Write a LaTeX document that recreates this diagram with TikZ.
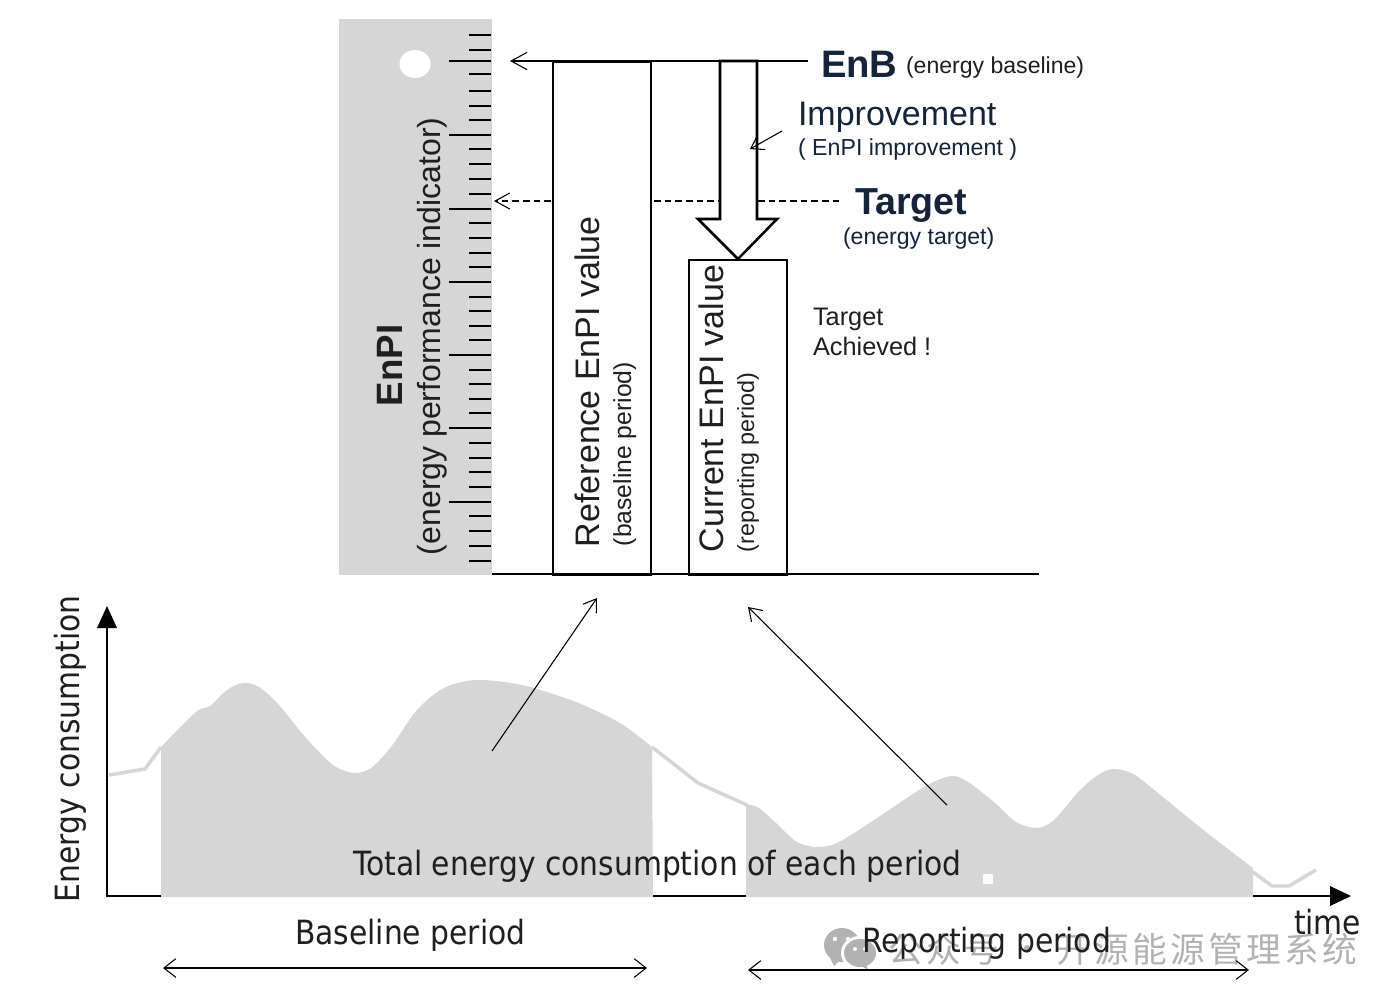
\documentclass[tikz,border=0pt]{standalone}
\usepackage{fontspec}
\usetikzlibrary{arrows.meta}
\setmainfont{Liberation Sans}
\newfontfamily\tahomafont[FakeStretch=0.893]{DejaVu Sans}
\newfontfamily\cjkfont[LetterSpace=10]{Noto Sans CJK SC}
\definecolor{inkblue}{HTML}{15243A}
\definecolor{fillgray}{HTML}{D6D6D6}
\definecolor{markgray}{HTML}{B2B2B2}
\newcommand{\pxfont}[1]{\fontsize{#1}{#1}\selectfont}
\tikzset{
  x=0.75pt,y=-0.75pt,
  lbl/.style={inner sep=0pt,outer sep=0pt,anchor=base west,text=black!88},
  lblup/.style={lbl,rotate=90},
  head/.style={lbl,text=inkblue},
  tah/.style={lbl,font=\tahomafont\pxfont{25}},
  barbend/.style={-{Straight Barb[length=12pt,width=13pt,line width=0.8pt]},line width=0.8pt},
  barbs/.style={{Straight Barb[length=9pt,width=14pt,line width=0.8pt]}-{Straight Barb[length=9pt,width=14pt,line width=0.8pt]},line width=0.9pt},
  thinarrow/.style={-{Straight Barb[length=9pt,width=12pt,line width=0.8pt]},line width=0.8pt},
  valbox/.style={draw=black,line width=1.15pt,anchor=north west,inner sep=0pt,minimum width=73.5pt},
  graycurve/.style={draw=fillgray,line width=2.6pt,line join=round},
  tick1/.style={line width=1pt},
  tick2/.style={line width=2pt},
  dashline/.style={line width=0.8pt,dash pattern=on 5pt off 3pt},
}
\begin{document}
\begin{tikzpicture}
\useasboundingbox[fill=white] (0,0) rectangle (1400,1004);
% ruler
\fill[fillgray] (339,19) rectangle (492,575);
\fill[white] (415,64) ellipse [x radius=15.5,y radius=14];
\foreach \yy in {35,50,74,91,106,120,149,164,179,194,223,238,253,267,297,311,326,340,370,384,399,413,443,458,472,487,516,531,546,561}
  \draw[tick1] (469,\yy) -- (491,\yy);
\foreach \yy in {61,135,209,282,355,428,502}
  \draw[tick2] (449,\yy) -- (491,\yy);
% axis of the value boxes
\coordinate (floorA) at (492,574);
\coordinate (floorB) at (1039,574);
\draw[line width=1.1pt] (floorA) -- (floorB);
\node[valbox,minimum height=384.75pt] (refbox) at (552,61) {};
\node[valbox,minimum height=236.25pt] (curbox) at (688,259) {};
% EnB line
\coordinate (enbR) at (808,61);
\coordinate (enbL) at (510,61);
\draw[barbend] (enbR) -- (enbL);
% target dashes
\coordinate (tgtL1) at (551,201);
\coordinate (tgtL2) at (494,201);
\coordinate (tgtR1) at (654,201);
\coordinate (tgtM1) at (719,201);
\coordinate (tgtM2) at (758,201);
\coordinate (tgtR2) at (840,201);
\draw[dashline,-{Straight Barb[length=11pt,width=12pt,line width=0.8pt]}] (tgtL1) -- (tgtL2);
\draw[dashline] (tgtR1) -- (tgtM1);
\draw[dashline] (tgtM2) -- (tgtR2);
% improvement arrow
\draw[line width=1.9pt,line join=miter] (720,61) -- (720,219) -- (698,219) -- (738,259) -- (777,219) -- (757,219) -- (757,61) -- cycle;
\coordinate (impA) at (782,131);
\coordinate (impB) at (750,149);
\draw[thinarrow] (impA) -- (impB);
% top labels
\node[head,font=\bfseries\pxfont{28.7}] (enb) at (821,77) {EnB};
\node[lbl,font=\pxfont{17.3}] (enbsub) at (906,73) {(energy baseline)};
\node[head,font=\pxfont{25.5}] (impr) at (798,125) {Improvement};
\node[head,font=\pxfont{17.4}] (imprsub) at (798,155) {( EnPI improvement )};
\node[head,font=\bfseries\pxfont{28.2}] (tgt) at (855,214) {Target};
\node[head,font=\pxfont{17.3}] (tgtsub) at (843,244) {(energy target)};
\node[lbl,font=\pxfont{19}] (ach1) at (813,325) {Target};
\node[lbl,font=\pxfont{19}] (ach2) at (813,355) {Achieved !};
\node[lblup,font=\pxfont{25.5}] (reflab) at (599,547) {Reference EnPI value};
\node[lblup,font=\pxfont{18.5}] (refsub) at (631,546) {(baseline period)};
\node[lblup,font=\pxfont{25.5}] (curlab) at (723,552) {Current EnPI value};
\node[lblup,font=\pxfont{17.5}] (cursub) at (754,552) {(reporting period)};
\node[lblup,font=\bfseries\pxfont{27.5}] (enpi) at (402,406) {EnPI};
\node[lblup,font=\pxfont{24}] (enpisub) at (440,555) {(energy performance indicator)};
% gray areas
\fill[fillgray] plot[smooth,tension=0.5] coordinates {(161,747) (196,712) (210,706) (227,690) (243,683) (259,687) (279,705) (306,738) (333,765) (354,773) (371,768) (391,747) (417,710) (444,688) (476,680) (522,685) (576,702) (620,723) (652,747)} -- (653,897) -- (161,897) -- cycle;
\fill[fillgray] plot[smooth,tension=0.5] coordinates {(746,804) (759,808) (776,823) (797,842) (818,847) (839,842) (877,818) (924,787) (951,776) (968,782) (995,803) (1016,822) (1037,828) (1054,820) (1080,790) (1101,773) (1116,769) (1135,775) (1164,798) (1206,832) (1253,868)} -- (1253,897) -- (746,897) -- cycle;
\draw[graycurve] (109,775) -- (145,769) -- (161,747);
\draw[graycurve] (652,747) -- (698,783) -- (747,805);
\draw[graycurve] (1253,872) -- (1272,886) -- (1289,886) -- (1316,870);
\fill[white!90!fillgray] (983,874) rectangle (993,884);
% axes
\coordinate (origin) at (107,896);
\coordinate (ytop) at (107,628);
\coordinate (xend) at (1330,896);
\draw[line width=1pt] (ytop) -- (origin) -- (161,896);
\draw[line width=1pt] (653,896) -- (746,896);
\draw[line width=1pt] (1253,896) -- (xend);
\fill[black] (107,606) -- (97,628) -- (117,628) -- cycle;
\fill[black] (1351,896) -- (1330,886) -- (1330,906) -- cycle;
% pointers
\coordinate (p1a) at (492,751);
\coordinate (p1b) at (597,598);
\coordinate (p2a) at (947,805);
\coordinate (p2b) at (748,607);
\draw[thinarrow] (p1a) -- (p1b);
\draw[thinarrow] (p2a) -- (p2b);
% watermark
\fill[markgray] (842,945) ellipse [x radius=18,y radius=17];
\fill[markgray] (830,958) -- (834,966) -- (842,958) -- cycle;
\fill[white] (860,953) ellipse [x radius=19,y radius=17];
\fill[markgray] (860,953) ellipse [x radius=16,y radius=14];
\fill[markgray] (866,964) -- (868,970) -- (858,964) -- cycle;
\fill[white] (835,939) circle (2.2) (848,939) circle (2.2) (855,949) circle (2) (865,949) circle (2);
\node[lbl,text=markgray,font=\cjkfont\pxfont{26}] (mark) at (888,962) {公众号 · 开源能源管理系统};
% period spans
\coordinate (bpL) at (163,968);
\coordinate (bpR) at (647,968);
\coordinate (rpL) at (748,970);
\coordinate (rpR) at (1249,970);
\draw[barbs] (bpL) -- (bpR);
\draw[barbs] (rpL) -- (rpR);
% lower labels
\node[tah,rotate=90] (econs) at (79,902) {Energy consumption};
\node[tah] (total) at (353,875) {Total energy consumption of each period};
\node[tah] (bper) at (295,944) {Baseline period};
\node[tah] (rper) at (862,952) {Reporting period};
\node[tah] (tlab) at (1294,934) {time};
\end{tikzpicture}
\end{document}
